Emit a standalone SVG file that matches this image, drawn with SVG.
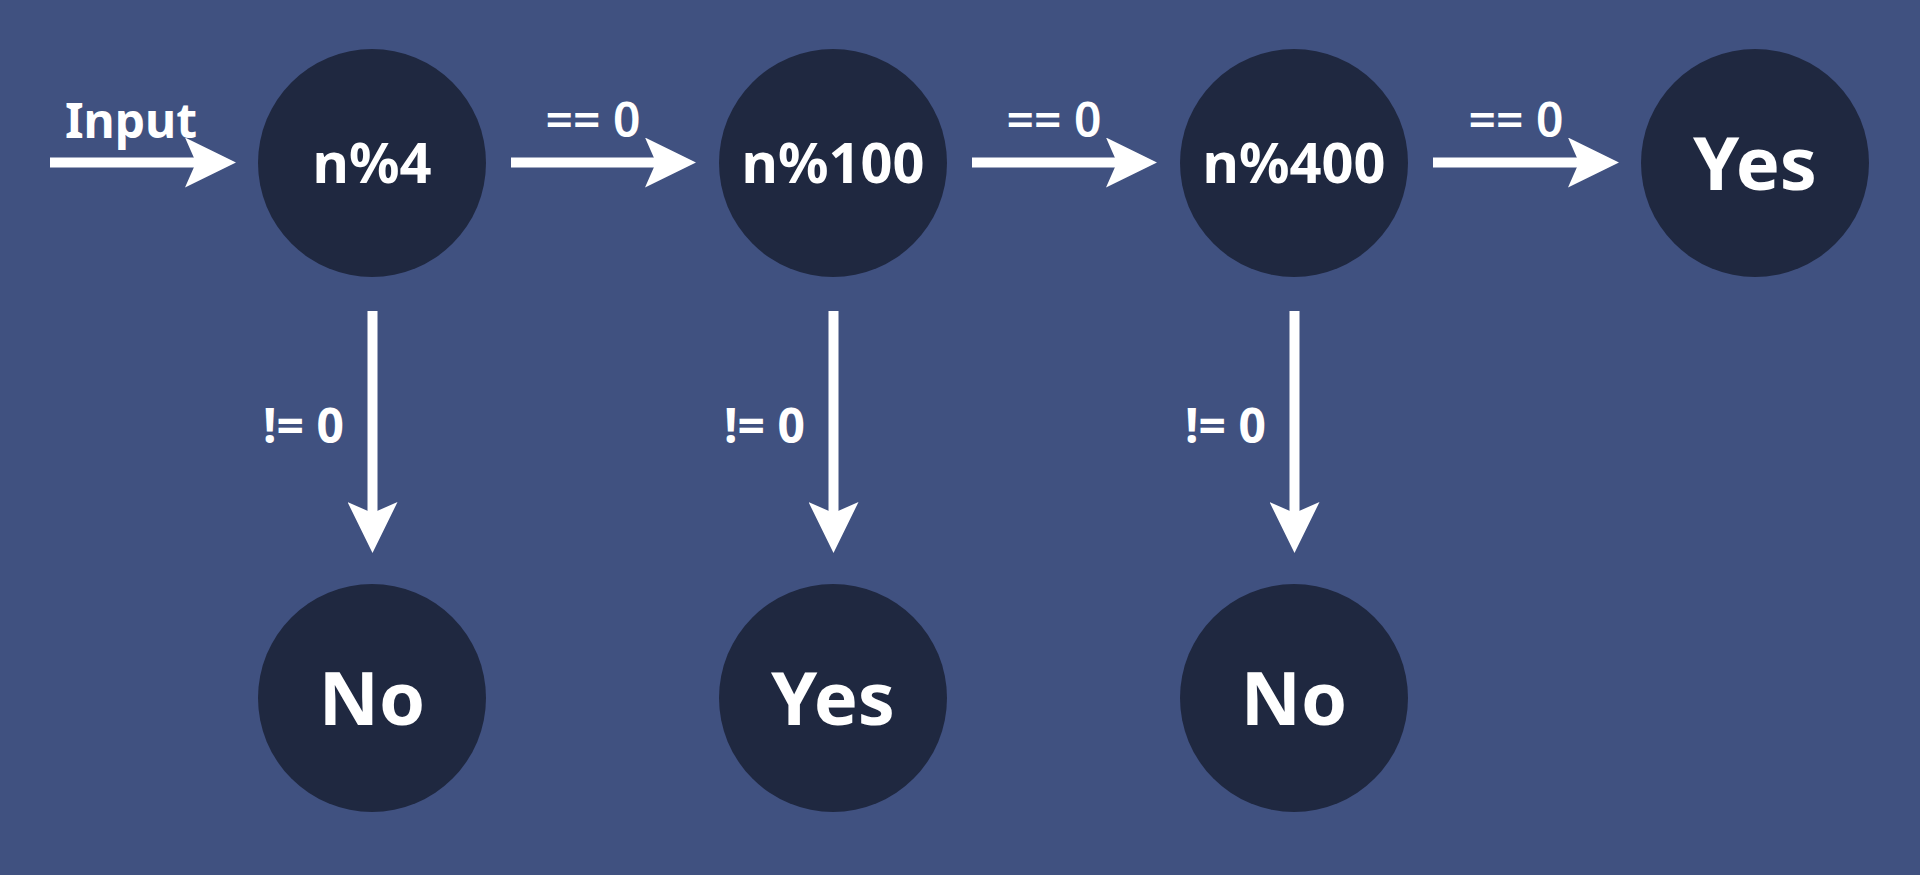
<svg xmlns="http://www.w3.org/2000/svg" width="1920" height="875" viewBox="0 0 1920 875">
<style>
.node circle { fill: #1f2840; }
.nt { font-family: "Noto Sans", "Open Sans", "Liberation Sans", sans-serif; font-weight: 700; fill: #ffffff; text-anchor: middle; }
.lbl { font-family: "Noto Sans", "Open Sans", "Liberation Sans", sans-serif; fill: #ffffff; font-size: 48px; }
.edge { stroke: #ffffff; stroke-width: 10; fill: none; }
</style>
<defs>
<marker id="ah" viewBox="0 0 52 50" markerUnits="userSpaceOnUse" markerWidth="52" markerHeight="50" refX="21" refY="25" orient="auto">
<path d="M0,0 L51,25 L0,50 L11,25 Z" fill="#ffffff"/>
</marker>
</defs>
<rect x="0" y="0" width="1920" height="875" fill="#405180"/>
<g id="connectors">
<line class="edge" x1="50" y1="162.5" x2="206" y2="162.5" marker-end="url(#ah)"/>
<line class="edge" x1="511" y1="162.5" x2="666" y2="162.5" marker-end="url(#ah)"/>
<line class="edge" x1="972" y1="162.5" x2="1127" y2="162.5" marker-end="url(#ah)"/>
<line class="edge" x1="1433" y1="162.5" x2="1589" y2="162.5" marker-end="url(#ah)"/>
<line class="edge" x1="372.5" y1="311" x2="372.5" y2="523" marker-end="url(#ah)"/>
<line class="edge" x1="833.5" y1="311" x2="833.5" y2="523" marker-end="url(#ah)"/>
<line class="edge" x1="1294.5" y1="311" x2="1294.5" y2="523" marker-end="url(#ah)"/>
<text class="lbl" x="131" y="138" text-anchor="middle" font-size="42" font-weight="700">Input</text>
<text class="lbl" x="593" y="137" text-anchor="middle" font-weight="600">== 0</text>
<text class="lbl" x="1054" y="137" text-anchor="middle" font-weight="600">== 0</text>
<text class="lbl" x="1516" y="137" text-anchor="middle" font-weight="600">== 0</text>
<text class="lbl" x="344" y="443" text-anchor="end" font-weight="700">!= 0</text>
<text class="lbl" x="805" y="443" text-anchor="end" font-weight="700">!= 0</text>
<text class="lbl" x="1266" y="443" text-anchor="end" font-weight="700">!= 0</text>
</g>
<g id="n4" class="node"><circle cx="372" cy="163" r="114"/><text class="nt" x="372" y="183" font-size="56">n%4</text></g>
<g id="n100" class="node"><circle cx="833" cy="163" r="114"/><text class="nt" x="833" y="183" font-size="56">n%100</text></g>
<g id="n400" class="node"><circle cx="1294" cy="163" r="114"/><text class="nt" x="1294" y="183" font-size="56">n%400</text></g>
<g id="yes1" class="node"><circle cx="1755" cy="163" r="114"/><text class="nt" x="1755" y="190" font-size="74">Yes</text></g>
<g id="no1" class="node"><circle cx="372" cy="698" r="114"/><text class="nt" x="372" y="725" font-size="74">No</text></g>
<g id="yes2" class="node"><circle cx="833" cy="698" r="114"/><text class="nt" x="833" y="725" font-size="74">Yes</text></g>
<g id="no2" class="node"><circle cx="1294" cy="698" r="114"/><text class="nt" x="1294" y="725" font-size="74">No</text></g>
</svg>
